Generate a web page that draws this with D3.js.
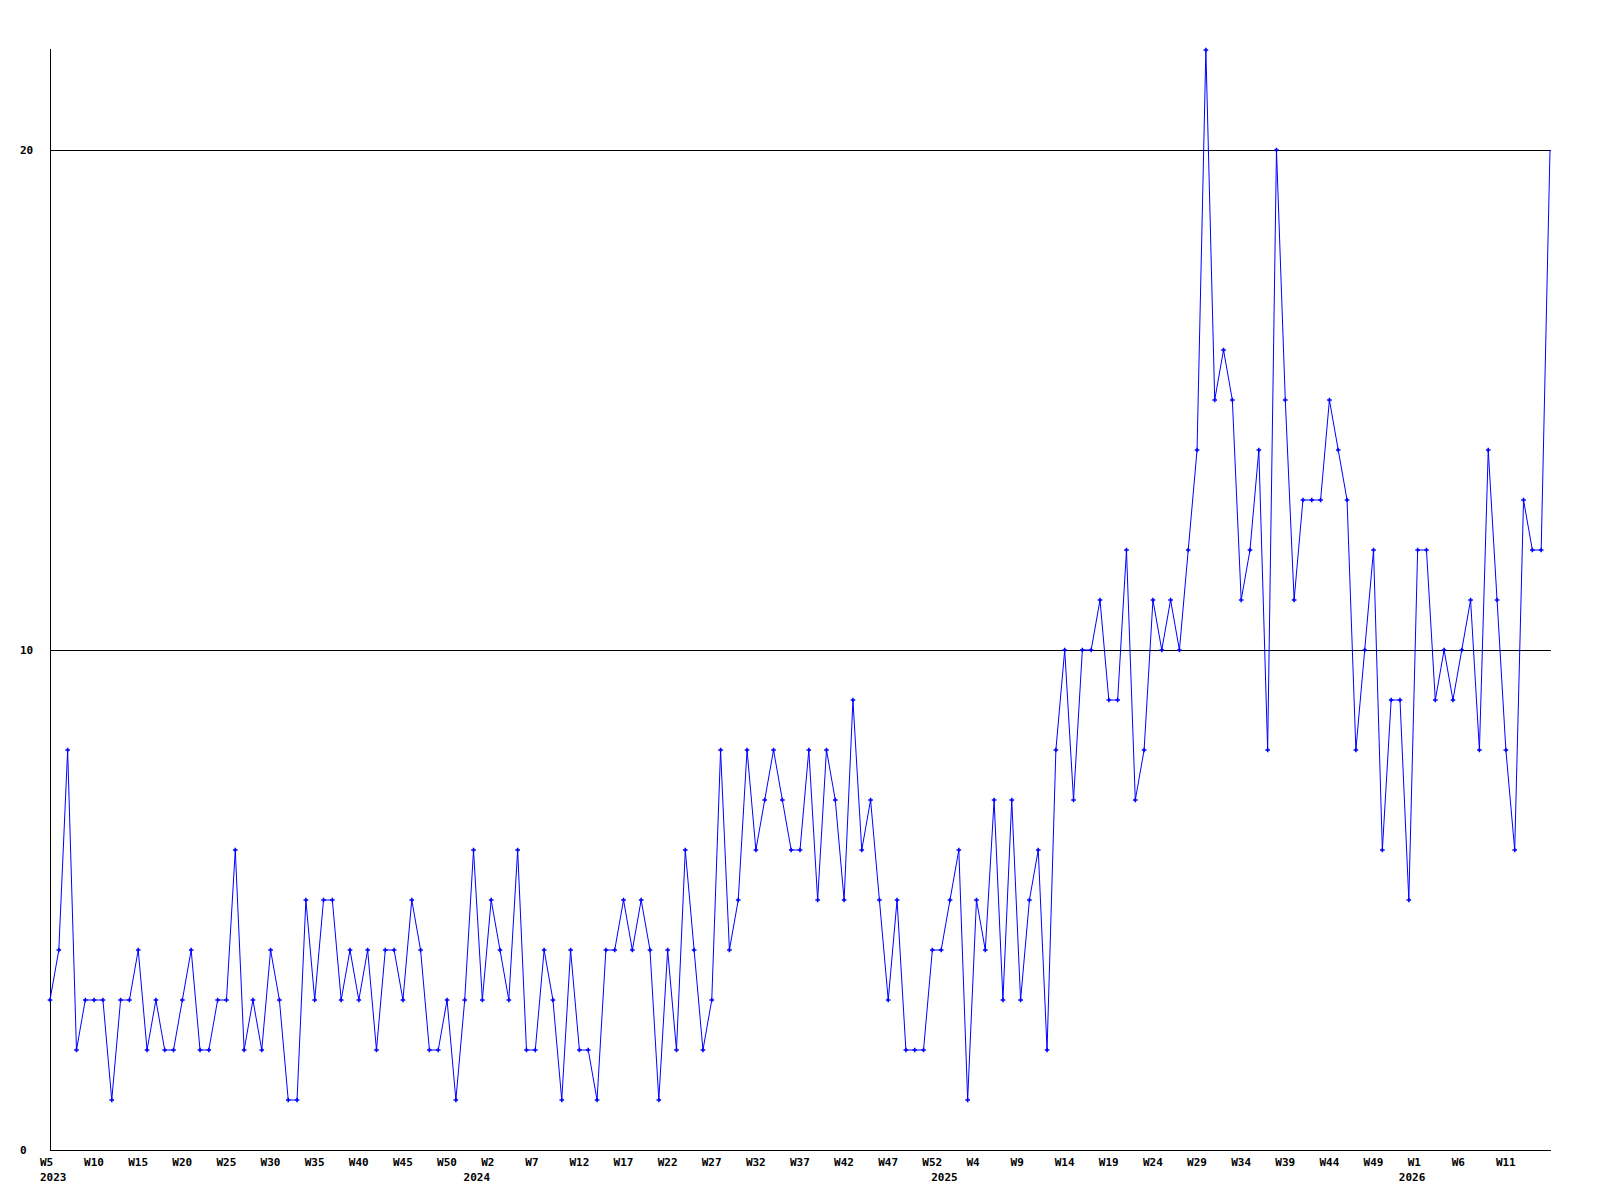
<!DOCTYPE html>
<html lang="en">
<head>
<meta charset="utf-8">
<title>Weekly counts</title>
<script src="https://cdn.jsdelivr.net/npm/d3@7"></script>
<style>
  body { margin: 0; background: #fff; }
  text { font-family: "DejaVu Sans Mono", monospace; font-weight: bold; font-size: 11px; fill: #000; }
</style>
</head>
<body>
<div id="chart"></div>
<script>
// week buckets W0..W52 per year, first point 2023 W5
var years = [2023, 2024, 2025, 2026];
var firstWeek = 5;
var values = [
  3, 4, 8, 2, 3, 3, 3, 1, 3, 3, 4, 2, 3, 2, 2, 3, 4, 2, 2, 3,
  3, 6, 2, 3, 2, 4, 3, 1, 1, 5, 3, 5, 5, 3, 4, 3, 4, 2, 4, 4,
  3, 5, 4, 2, 2, 3, 1, 3, 6, 3, 5, 4, 3, 6, 2, 2, 4, 3, 1, 4,
  2, 2, 1, 4, 4, 5, 4, 5, 4, 1, 4, 2, 6, 4, 2, 3, 8, 4, 5, 8,
  6, 7, 8, 7, 6, 6, 8, 5, 8, 7, 5, 9, 6, 7, 5, 3, 5, 2, 2, 2,
  4, 4, 5, 6, 1, 5, 4, 7, 3, 7, 3, 5, 6, 2, 8, 10, 7, 10, 10, 11,
  9, 9, 12, 7, 8, 11, 10, 11, 10, 12, 14, 22, 15, 16, 15, 11, 12, 14, 8, 20,
  15, 11, 13, 13, 13, 15, 14, 13, 8, 10, 12, 6, 9, 9, 5, 12, 12, 9, 10, 9,
  10, 11, 8, 14, 11, 8, 6, 13, 12, 12, 20
];
var yTicks = [0, 10, 20];
var yGrid = [10, 20];
var yMax = 22;
var tickEvery = 5;

// categories: "2023-W5", "2023-W6", ...
var categories = [];
years.forEach(function(y, yi) {
  for (var w = (yi == 0 ? firstWeek : 0); w <= 52; w++) {
    if (categories.length < values.length) categories.push(y + "-W" + w);
  }
});

var W = 1600, H = 1200;
var mLeft = 50, mRight = 1550, mTop = 50, mBottom = 1150;

var svg = d3.select("#chart").append("svg")
  .attr("width", W).attr("height", H);

var x = d3.scalePoint().domain(categories).range([mLeft, mRight]);
var y = d3.scaleLinear().domain([0, yMax]).range([mBottom, mTop]);

// grid lines
svg.selectAll("line.grid")
  .data(yGrid)
  .enter().append("line")
  .attr("class", "grid")
  .attr("x1", mLeft).attr("x2", mRight + 1)
  .attr("y1", function(d) { return Math.round(y(d)) + 0.5; })
  .attr("y2", function(d) { return Math.round(y(d)) + 0.5; })
  .attr("stroke", "#000")
  .attr("shape-rendering", "crispEdges");

// axes lines
svg.append("line")
  .attr("x1", mLeft + 0.5).attr("x2", mLeft + 0.5)
  .attr("y1", mTop - 1).attr("y2", mBottom)
  .attr("stroke", "#000").attr("shape-rendering", "crispEdges");
svg.append("line")
  .attr("x1", mLeft).attr("x2", mRight + 1)
  .attr("y1", mBottom + 0.5).attr("y2", mBottom + 0.5)
  .attr("stroke", "#000").attr("shape-rendering", "crispEdges");

// y labels
svg.selectAll("text.ylab")
  .data(yTicks)
  .enter().append("text")
  .attr("class", "ylab")
  .attr("x", 20)
  .attr("y", function(d) { return y(d) + 4; })
  .text(function(d) { return d; });

// x labels (no label on the very last point)
var tickCats = categories.filter(function(d, i) {
  return i % tickEvery == 0 && i < categories.length - 1;
});
svg.selectAll("text.xlab")
  .data(tickCats)
  .enter().append("text")
  .attr("class", "xlab")
  .attr("x", function(d) { return x(d) - 10; })
  .attr("y", mBottom + 16)
  .text(function(d) { return d.split("-")[1]; });

// year labels under the first week of each year
var yearCats = categories.filter(function(d, i) {
  return i == 0 || d.split("-")[0] != categories[i - 1].split("-")[0];
});
svg.selectAll("text.yearlab")
  .data(yearCats)
  .enter().append("text")
  .attr("class", "yearlab")
  .attr("x", function(d) { return x(d) - 10; })
  .attr("y", mBottom + 31)
  .text(function(d) { return d.split("-")[0]; });

// line
var pts = values.map(function(v, i) { return [categories[i], v]; });
var line = d3.line()
  .x(function(d) { return x(d[0]); })
  .y(function(d) { return y(d[1]); });

svg.append("path")
  .datum(pts)
  .attr("d", line)
  .attr("fill", "none")
  .attr("stroke", "#0000ff")
  .attr("stroke-width", 1);

// markers (the running week at the end has none)
svg.selectAll("path.mark")
  .data(pts.slice(0, -1))
  .enter().append("path")
  .attr("class", "mark")
  .attr("transform", function(d) { return "translate(" + x(d[0]) + "," + y(d[1]) + ")"; })
  .attr("d", d3.symbol(d3.symbolCross, 12))
  .attr("fill", "#0000ff");
</script>
</body>
</html>
